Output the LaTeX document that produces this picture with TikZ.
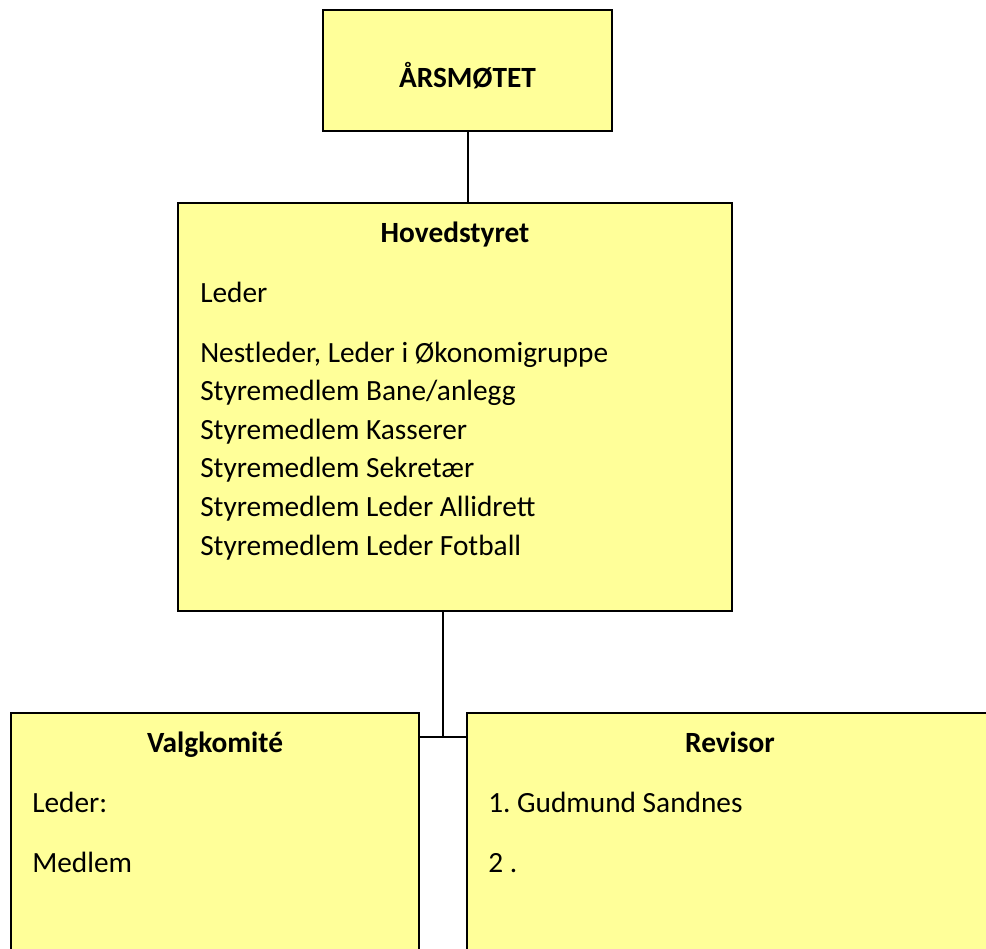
\documentclass[tikz,border=0pt]{standalone}
\usepackage{fontspec}
\setmainfont{Carlito}
\usepackage{xcolor}
\usepackage{tikz}
\usetikzlibrary{positioning, calc}
\definecolor{boxyellow}{RGB}{255, 255, 153}
\frenchspacing

\begin{document}
\begin{tikzpicture}[
        x=0.75pt, y=-0.75pt,
        box/.style={rectangle, draw=black, line width=1.5pt, fill=boxyellow, inner sep=0pt},
        title/.style={font=\fontsize{22}{29}\selectfont\bfseries, anchor=base, inner sep=0pt},
        entry/.style={font=\fontsize{22}{29}\selectfont, anchor=base west, inner sep=0pt},
        link/.style={draw=black, line width=1.5pt}
    ]
        \useasboundingbox (0,0) rectangle (986,949);
        \clip (0,0) rectangle (986,949);

        % Annual meeting
        \node[box, minimum width=289*0.75pt, minimum height=121*0.75pt] (aars) at (467.5,70.5) {};
        \node[title] (aarstitle) at (467.5,88) {ÅRSMØTET};

        % Main board
        \node[box, minimum width=554*0.75pt, minimum height=408*0.75pt] (hoved) at (455,407) {};
        \node[title] (hovedtitle) at (455,242) {Hovedstyret};
        \node[entry] (leder) at (200,302) {Leder};
        \foreach \txt [count=\i] in {{Nestleder, Leder i Økonomigruppe}, Styremedlem Bane/anlegg,
                Styremedlem Kasserer, Styremedlem Sekretær, Styremedlem Leder Allidrett,
                Styremedlem Leder Fotball}
            \node[entry] (member\i) at (200,{362+38.6*(\i-1)}) {\txt};

        % Election committee
        \node[box, minimum width=408*0.75pt, minimum height=267*0.75pt] (valg) at (215,846.5) {};
        \node[title] (valgtitle) at (215,752) {Valgkomité};
        \node[entry] (valgleder) at (32,812) {Leder:};
        \node[entry] (valgmedlem) at (32,872) {Medlem};

        % Auditor
        \node[box, minimum width=526*0.75pt, minimum height=267*0.75pt] (revisor) at (730,846.5) {};
        \node[title] (revisortitle) at (730,752) {Revisor};
        \node[entry] (revisor1) at (488,812) {1. Gudmund Sandnes};
        \node[entry] (revisor2) at (488,872) {2 .};

        % Lines
        \coordinate (junction) at (443,737);
        \draw[link] (aars.south) -- (aars.south |- hoved.north);
        \draw[link] (hoved.south -| junction) -- (junction);
        \draw[link] (valg.east |- junction) -- (revisor.west |- junction);
    \end{tikzpicture}
\end{document}
